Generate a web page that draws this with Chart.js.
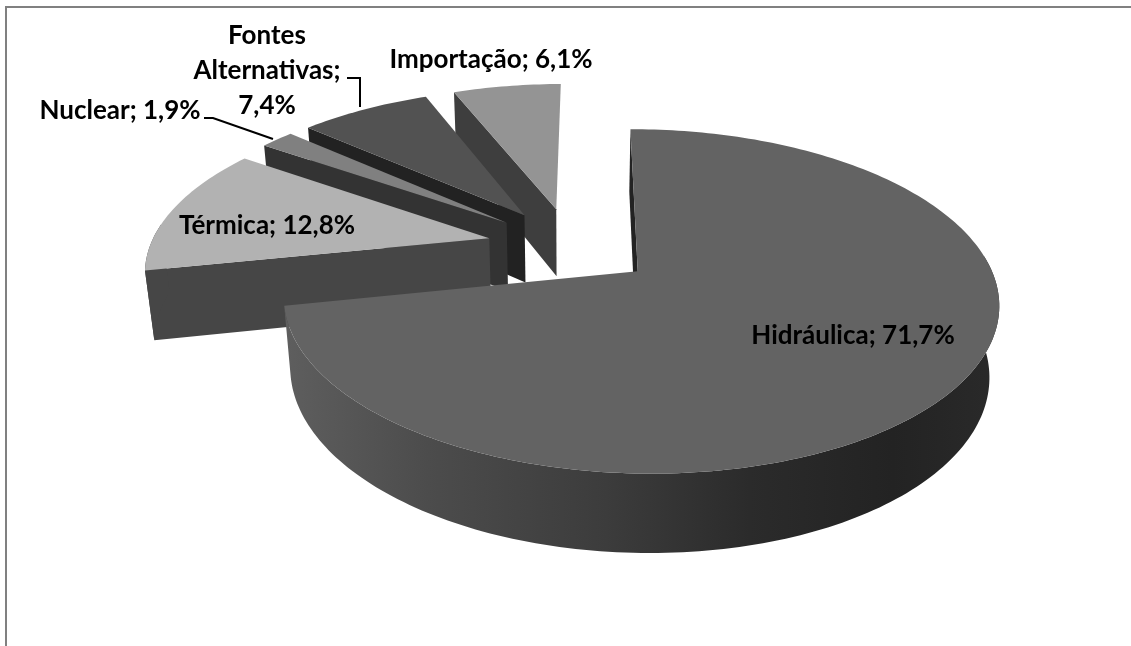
<!DOCTYPE html>
<html>
<head>
<meta charset="utf-8">
<style>
	html, body { margin: 0; padding: 0; background: #fff; overflow: hidden; }
	#frame { position: absolute; left: 5px; top: 6px; width: 1126px; height: 640px; border-top: 2px solid #808080; border-left: 2px solid #808080; box-sizing: border-box; }
	#pie { position: absolute; left: 0; top: 0; }
</style>
<script src="https://cdn.jsdelivr.net/npm/chart.js@4/dist/chart.umd.min.js"></script>
</head>
<body>
<div id="frame"></div>
<canvas id="pie" width="1131" height="646"></canvas>
<script>
const categories = ["Hidráulica", "Térmica", "Nuclear", "Fontes Alternativas", "Importação"];
const shares = [71.7, 12.8, 1.9, 7.4, 6.1];

const topColors = ["#636363", "#b2b2b2", "#808080", "#525252", "#949494"];
const wallColors = ["#232323", "#464646", "#333333", "#222222", "#3e3e3e"];

// excel's 3d perspective, fitted by eye
const view = { ax: 342, ay: 158, skew: -3, p: 0.17, q: -0.006, r: 0.022, depth: 70.5 };

const labelSpots = [
	{ x: 853, y: 336 },
	{ x: 267, y: 226 },
	{ x: 120, y: 111 },
	{ x: 267, y: 71, wrapped: true },
	{ x: 491, y: 60 },
];
const leaderLines = [
	[[204, 118], [213, 118], [273, 139]],
	[[347, 78], [360, 78], [360, 107]],
];

function project(el, X, Z, h) {
	const w = 1 - view.p * Z + view.q * X + view.r * h;
	return {
		x: el.x + (view.ax * X + view.skew * Z) / w,
		y: el.y + (view.ay * Z + view.depth * h) / w,
	};
}

function tracePath(ctx, pts) {
	ctx.beginPath();
	pts.forEach((pt, i) => (i ? ctx.lineTo(pt.x, pt.y) : ctx.moveTo(pt.x, pt.y)));
	ctx.closePath();
}

function rimAngles(el) {
	const steps = Math.max(2, Math.ceil((el.endAngle - el.startAngle) / 0.02));
	const angles = [];
	for (let i = 0; i <= steps; i++) {
		angles.push(el.startAngle + ((el.endAngle - el.startAngle) * i) / steps);
	}
	return angles;
}

function mainWallGradient(ctx) {
	const grad = ctx.createLinearGradient(285, 0, 1000, 0);
	grad.addColorStop(0, "#5e5e5e");
	grad.addColorStop(0.2, "#4c4c4c");
	grad.addColorStop(0.45, "#3c3c3c");
	grad.addColorStop(0.65, "#2b2b2b");
	grad.addColorStop(0.85, "#232323");
	grad.addColorStop(1, "#2a2a2a");
	return grad;
}

function drawSlice(ctx, el, index) {
	const mid = (el.startAngle + el.endAngle) / 2;
	const shift = el.options.offset / el.outerRadius;
	const ox = shift * Math.cos(mid);
	const oz = shift * Math.sin(mid);
	const angles = rimAngles(el);
	const rim = (a, h) => project(el, ox + Math.cos(a), oz + Math.sin(a), h);
	const apex = (h) => project(el, ox, oz, h);

	// only the start edge and the front of the rim ever face the camera here
	tracePath(ctx, [apex(0), rim(el.startAngle, 0), rim(el.startAngle, 1), apex(1)]);
	ctx.fillStyle = wallColors[index];
	ctx.fill();

	const front = angles.filter((a) => Math.sin(a) > -0.1);
	if (front.length > 1) {
		tracePath(ctx, [...front.map((a) => rim(a, 0)), ...front.slice().reverse().map((a) => rim(a, 1))]);
		ctx.fillStyle = index === 0 ? mainWallGradient(ctx) : wallColors[index];
		ctx.fill();
	}

	tracePath(ctx, [apex(0), ...angles.map((a) => rim(a, 0))]);
	ctx.fillStyle = el.options.backgroundColor;
	ctx.fill();
}

function labelLines(index) {
	const share = shares[index].toFixed(1).replace(".", ",") + "%";
	if (labelSpots[index].wrapped) {
		return [...categories[index].split(" ").map((w, i, all) => (i === all.length - 1 ? w + ";" : w)), share];
	}
	return [categories[index] + "; " + share];
}

function drawLabels(ctx) {
	ctx.fillStyle = "#000";
	ctx.font = "bold 26px Lato";
	ctx.textAlign = "center";
	ctx.textBaseline = "middle";
	labelSpots.forEach((spot, i) => {
		const lines = labelLines(i);
		lines.forEach((line, n) => {
			ctx.fillText(line, spot.x, spot.y + (n - (lines.length - 1) / 2) * 35);
		});
	});

	ctx.strokeStyle = "#000";
	ctx.lineWidth = 2;
	leaderLines.forEach((pts) => {
		ctx.beginPath();
		pts.forEach(([x, y], i) => (i ? ctx.lineTo(x, y) : ctx.moveTo(x, y)));
		ctx.stroke();
	});
}

class Pie3dController extends Chart.PieController {
	static id = "pie3d";
	static defaults = Chart.PieController.defaults;
	static overrides = Chart.PieController.overrides;

	draw() {
		const ctx = this.chart.ctx;
		const arcs = this.getMeta().data;
		ctx.save();
		// back slices first
		for (let i = arcs.length - 1; i >= 0; i--) {
			drawSlice(ctx, arcs[i], i);
		}
		drawLabels(ctx);
		ctx.restore();
	}
}
Chart.register(Pie3dController);

new Chart(document.getElementById("pie"), {
	type: "pie3d",
	data: {
		labels: categories,
		datasets: [
			{
				data: shares,
				backgroundColor: topColors,
				borderWidth: 0,
				offset: 54,
			},
		],
	},
	options: {
		responsive: false,
		animation: false,
		layout: { padding: { left: 11, bottom: 154 } },
		plugins: { legend: { display: false }, tooltip: { enabled: false } },
	},
});
</script>
</body>
</html>
